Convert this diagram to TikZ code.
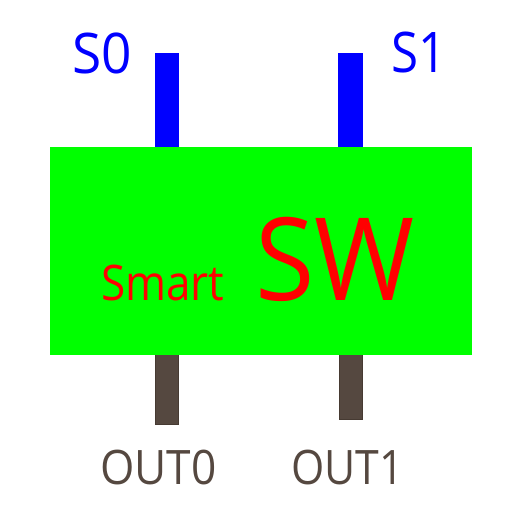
\documentclass[tikz,border=0pt]{standalone}
\usepackage{fontspec}
\setmainfont{Open Sans}[Scale=1]
\definecolor{pinblue}{RGB}{0,0,255}
\definecolor{boxgreen}{RGB}{0,255,0}
\definecolor{txtred}{RGB}{255,0,0}
\definecolor{outbrown}{RGB}{85,72,64}
\definecolor{outedge}{RGB}{70,58,50}
\begin{document}
\begin{tikzpicture}[x=1pt,y=-1pt,
  lbl/.style={inner sep=0pt,anchor=base west},
  pinin/.style={fill=pinblue,draw=none},
  pinout/.style={fill=outbrown,draw=outedge,line width=0.8pt}]
\useasboundingbox (0,0) rectangle (512,512);
% input pins
\fill[pinin] (154.5,52.5) rectangle (178.5,147) coordinate (s0pin);
\fill[pinin] (338,52.5) rectangle (362.5,147) coordinate (s1pin);
% output pins
\filldraw[pinout] (155,354) rectangle (178.5,424);
\filldraw[pinout] (339,354) rectangle (362.5,419.5);
% body
\fill[boxgreen] (50,146.5) rectangle (472,354.5);
\node[lbl,xscale=0.9,text=txtred,font=\fontsize{49}{49}\selectfont] (smart) at (101,300) {Smart};
\node[lbl,xscale=0.94,text=txtred,font=\fontsize{115}{115}\selectfont] (sw) at (255,300) {SW};
% labels
\node[lbl,xscale=0.95,text=pinblue,font=\fontsize{56}{56}\selectfont] (s0) at (72,73) {S0};
\node[lbl,xscale=0.88,text=pinblue,font=\fontsize{56}{56}\selectfont] (s1) at (391,72) {S1};
\node[lbl,xscale=0.93,text=outbrown,font=\fontsize{47.5}{47.5}\selectfont] (out0) at (100,484) {OUT0};
\node[lbl,xscale=0.9,text=outbrown,font=\fontsize{47.5}{47.5}\selectfont] (out1) at (291,484) {OUT1};
\end{tikzpicture}
\end{document}
